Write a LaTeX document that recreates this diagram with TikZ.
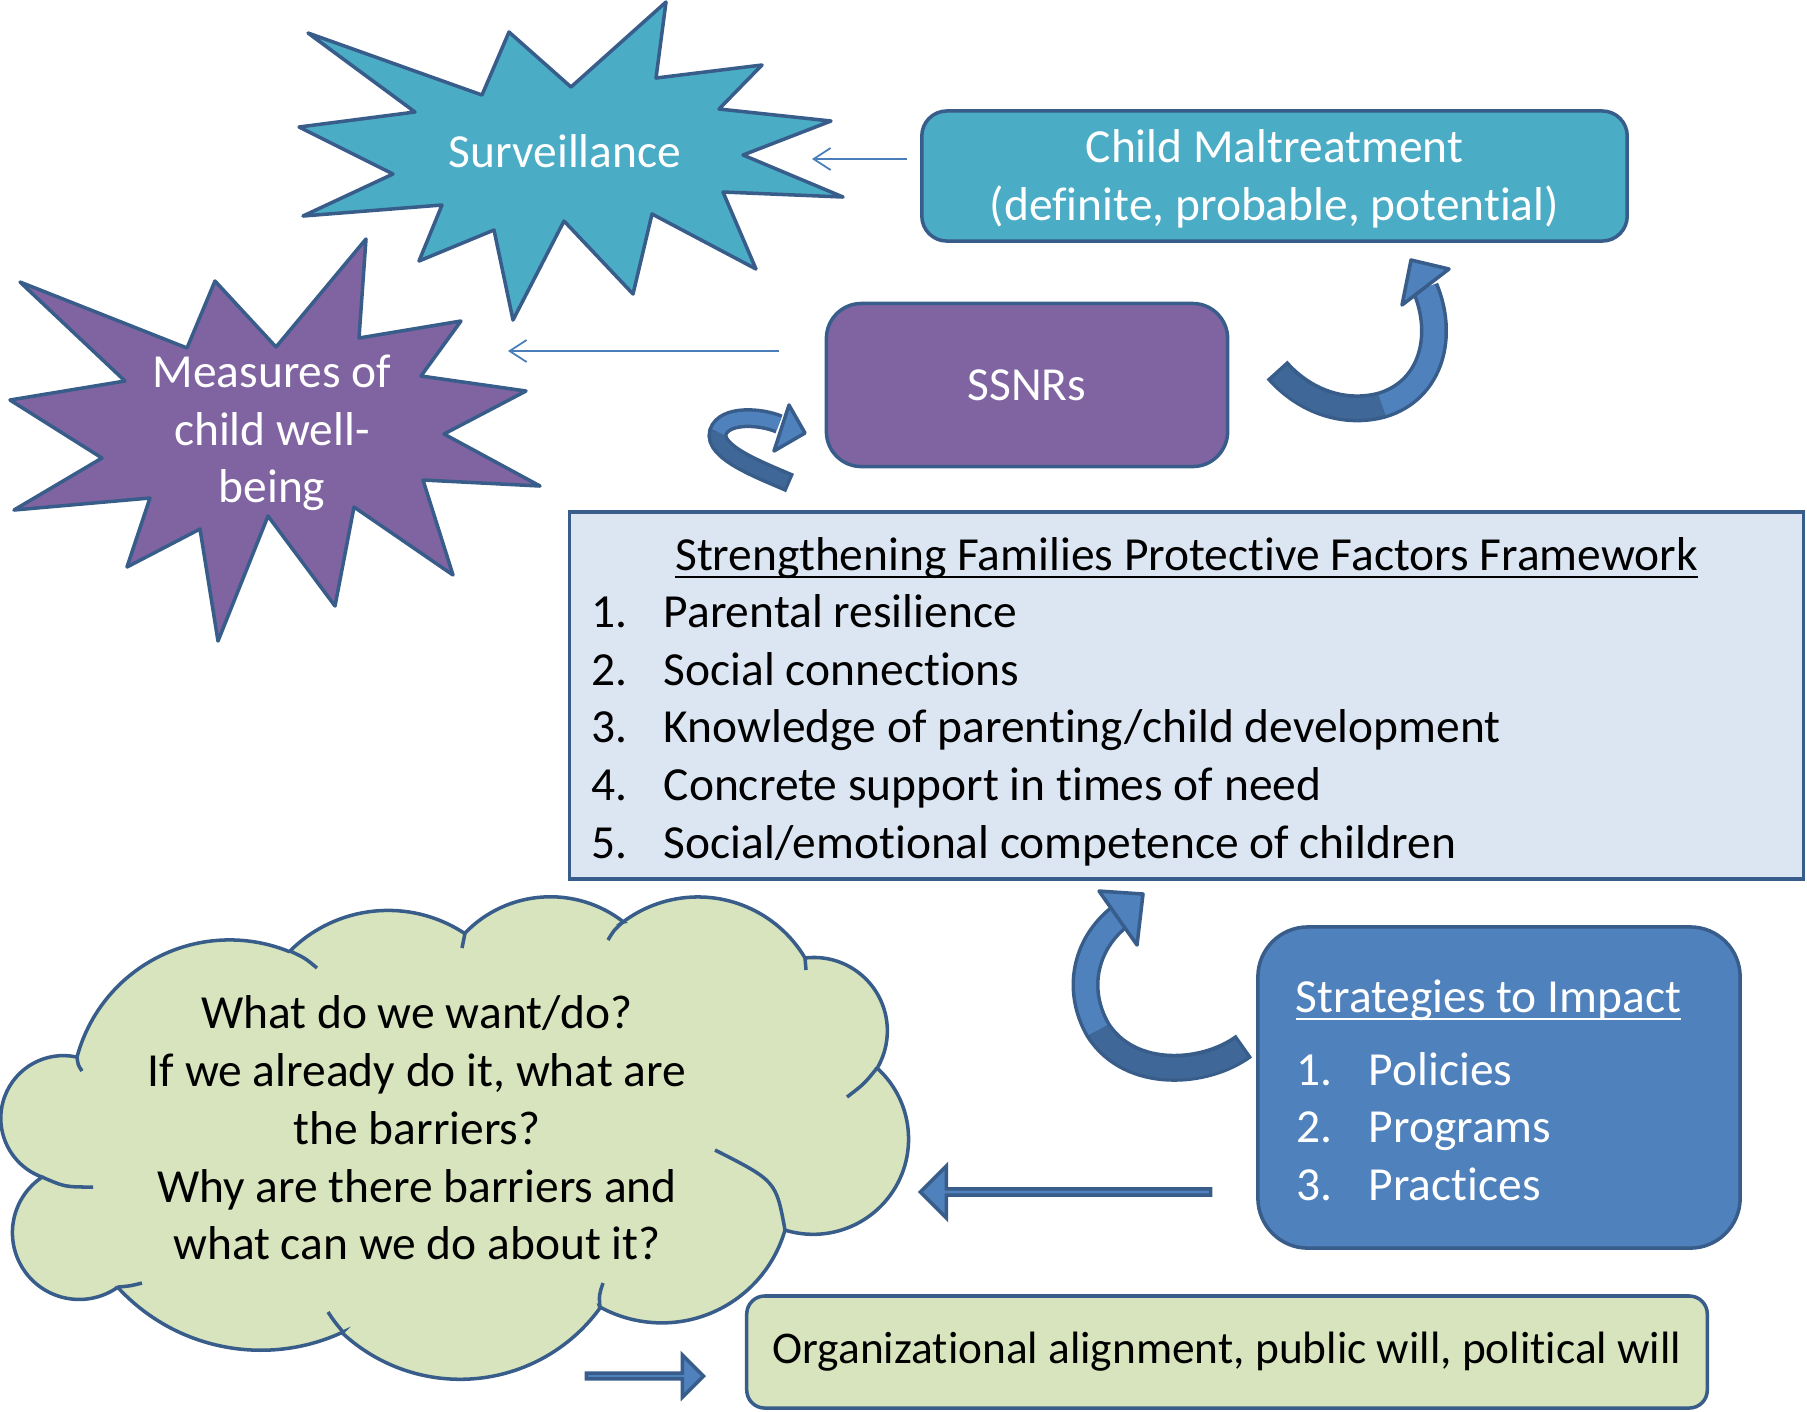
\documentclass[tikz,border=0pt]{standalone}
\usepackage{fontspec}
\setmainfont{Carlito}[Ligatures=NoCommon]
\usetikzlibrary{arrows.meta,shapes.arrows}

\definecolor{outline}{HTML}{385D8A}
\definecolor{aquafill}{HTML}{4BACC6}
\definecolor{plumfill}{HTML}{8064A2}
\definecolor{bluefill}{HTML}{4F81BD}
\definecolor{bluedark}{HTML}{3F6797}
\definecolor{palefill}{HTML}{DCE6F2}
\definecolor{greenfill}{HTML}{D7E4BD}
\definecolor{linkblue}{HTML}{4A7EBB}

% underline close to the baseline
\newcommand{\undertext}[1]{\setbox0\hbox{#1}\rlap{\rule[-2.3pt]{\wd0}{0.6pt}}\box0}

\tikzset{
  txt/.style={font=\fontsize{13.5}{16.4}\selectfont, inner sep=0pt},
  roundbox/.style={txt, draw=outline, line width=1pt, align=center},
  burst/.style={draw=outline, line width=1pt, line join=round},
  link/.style={draw=linkblue, line width=0.5pt, -{Straight Barb[length=1.7mm, width=2.2mm]}},
  bandedge/.style={draw=outline, line width=0.28cm},
  bandback/.style={draw=bluedark, line width=0.21cm},
  bandfront/.style={draw=bluefill, line width=0.21cm},
  headtip/.style={fill=bluefill, draw=outline, line width=1pt, line join=round},
  blockarrow/.style={single arrow, draw=outline, fill=bluefill, line width=1pt, inner sep=0pt, single arrow head extend=#1},
  listitem/.style={txt, anchor=base west},
}

\begin{document}
\begin{tikzpicture}[x=0.01cm, y=-0.01cm]
  \useasboundingbox (0,0) rectangle (1807,1411);

  % Surveillance burst
  \filldraw[burst, fill=aquafill] (308,33) -- (482,95) -- (509,32) -- (571,87) -- (666,2) -- (656,78)
    -- (762,65) -- (719,109) -- (831,121) -- (743,155) -- (843,197) -- (723,192) -- (756,269)
    -- (652,214) -- (633,294) -- (564,221) -- (513,320) -- (494,230) -- (419,261) -- (442,205)
    -- (303,216) -- (393,174) -- (299,127) -- (415,112) -- cycle;
  \node[txt, text=white] (surv) at (565,151) {Surveillance};

  % Measures burst
  \filldraw[burst, fill=plumfill] (20,282) -- (187,348) -- (215,281) -- (276,347) -- (366,239) -- (359,338)
    -- (461,321) -- (421,376) -- (526,391) -- (444,434) -- (540,486) -- (423,480) -- (453,575)
    -- (354,507) -- (335,606) -- (268,516) -- (218,641) -- (200,529) -- (127,567) -- (150,498)
    -- (14,510) -- (102,458) -- (10,400) -- (125,381) -- cycle;
  \node[txt, text=white, align=center] (meas) at (272,433) {Measures of\\child well-\\being};

  % boxes
  \node[roundbox, fill=aquafill, rounded corners=0.25cm, minimum width=7.05cm, minimum height=1.3cm] (cm) at (1274.5,176) {};
  \node[txt, text=white, align=center] (cmtext) at (1274.5,179) {Child Maltreatment\\(definite, probable, potential)};
  \node[roundbox, fill=plumfill, text=white, rounded corners=0.35cm, minimum width=4.01cm, minimum height=1.63cm]
    (ssnr) at (1027,385) {SSNRs};

  % protective factors
  \node[roundbox, fill=palefill, minimum width=12.33cm, minimum height=3.67cm] (sfpf) at (1186.5,695.5) {};
  \node[txt, anchor=base] (sfhead) at (1186.5,570) {\undertext{Strengthening Families Protective Factors Framework}};
  \foreach \entry [count=\i] in {Parental resilience, Social connections, Knowledge of parenting/child development,
      Concrete support in times of need, Social/emotional competence of children}
    \node[listitem] (sf\i) at (591,{570+57.6*\i}) {\makebox[0.72cm][l]{\i.}\entry};

  % strategies
  \node[roundbox, fill=bluefill, rounded corners=0.5cm, minimum width=4.82cm, minimum height=3.21cm] (strat) at (1499,1087.5) {};
  \node[listitem, text=white] (sthead) at (1295,1012) {\undertext{Strategies to Impact}};
  \foreach \entry [count=\i] in {Policies, Programs, Practices}
    \node[listitem, text=white] (st\i) at (1296,{1027.5+57.5*\i}) {\makebox[0.72cm][l]{\i.}\entry};

  \node[roundbox, fill=greenfill, rounded corners=0.18cm, minimum width=9.6cm, minimum height=1.12cm,
    font=\fontsize{12.9}{15.6}\selectfont] (org) at (1227,1352) {Organizational alignment, public will, political will};

  % cloud
  \filldraw[draw=outline, fill=greenfill, line width=1pt]
    (77,1057) arc[start angle=195, end angle=292, radius=158]
    -- (290,951) arc[start angle=225, end angle=303.5, radius=138.7]
    -- (465,933) arc[start angle=224, end angle=308, radius=118.7]
    -- (623,922) arc[start angle=233, end angle=329, radius=124.5]
    -- (805,958) arc[start angle=263, end angle=390, radius=73.4]
    -- (877,1068) arc[start angle=312, end angle=467, radius=95.4]
    -- (785,1230) arc[start angle=16, end angle=119, radius=128.2]
    -- (600,1308) arc[start angle=36, end angle=133, radius=172.9]
    -- (343,1332) arc[start angle=65, end angle=137.5, radius=194.3]
    -- (118,1287) arc[start angle=54.5, end angle=236, radius=66.8]
    -- (42,1177) arc[start angle=110, end angle=282, radius=62.6] -- cycle;
  \draw[draw=outline, line width=1pt] (77,1057) .. controls (78,1065) .. (82,1071);
  \draw[draw=outline, line width=1pt] (290,951) .. controls (305,958) .. (317,968);
  \draw[draw=outline, line width=1pt] (465,933) .. controls (463,940) .. (462,948);
  \draw[draw=outline, line width=1pt] (623,922) .. controls (614,930) .. (608,940);
  \draw[draw=outline, line width=1pt] (805,958) .. controls (806,964) .. (806,970);
  \draw[draw=outline, line width=1pt] (877,1068) .. controls (864,1084) .. (847,1097);
  \draw[draw=outline, line width=1pt] (785,1230) .. controls (776,1181) .. (715,1150);
  \draw[draw=outline, line width=1pt] (600,1308) .. controls (599,1295) .. (603,1283);
  \draw[draw=outline, line width=1pt] (343,1332) .. controls (334,1321) .. (328,1312);
  \draw[draw=outline, line width=1pt] (118,1287) .. controls (130,1286) .. (142,1283);
  \draw[draw=outline, line width=1pt] (42,1177) .. controls (65,1187) .. (93,1187);
  \node[txt, align=center] (askq) at (417,1128)
    {What do we want/do?\\If we already do it, what are\\the barriers?\\Why are there barriers and\\what can we do about it?};

  % thin links
  \coordinate (cmtail) at (907,159);
  \coordinate (survtip) at (812,159);
  \coordinate (ssnrtail) at (779,351);
  \coordinate (meastip) at (508,351);
  \draw[link] (cmtail) -- (survtip);
  \draw[link] (ssnrtail) -- (meastip);

  % block arrows
  \node[blockarrow=0.13cm, shape border rotate=180, minimum height=2.9cm, minimum width=0.52cm] (tocloud) at (1067,1192) {};
  \node[blockarrow=0.11cm, minimum height=1.17cm, minimum width=0.42cm] (toorg) at (643.5,1376) {};

  % curved arrow up to Child Maltreatment
  \draw[bandedge] (1277,370) .. controls (1305,402) and (1345,415) .. (1382,405)
    .. controls (1432,390) and (1445,335) .. (1425,288);
  \draw[bandback, shorten <=0.035cm] (1277,370) .. controls (1305,402) and (1345,415) .. (1382,405);
  \draw[bandfront] (1382,405) .. controls (1432,390) and (1445,335) .. (1425,288);
  \filldraw[headtip] (1411,260) -- (1449,269) -- (1402,305) -- cycle;

  % curved arrow into SSNRs
  \draw[bandedge, line width=0.2cm] (790,483) .. controls (760,470) and (712,452) .. (718,432)
    .. controls (724,414) and (760,416) .. (779,424);
  \draw[bandback, line width=0.13cm, shorten <=0.035cm] (790,483) .. controls (760,470) and (712,452) .. (718,432);
  \draw[bandfront, line width=0.13cm] (718,432) .. controls (724,414) and (760,416) .. (779,424);
  \filldraw[headtip] (805,433) -- (789,405) -- (774,451) -- cycle;

  % curved arrow up to the framework
  \draw[bandedge] (1244,1046) .. controls (1205,1075) and (1130,1080) .. (1098,1030)
    .. controls (1075,990) and (1085,945) .. (1118,918);
  \draw[bandback, shorten <=0.035cm] (1244,1046) .. controls (1205,1075) and (1130,1080) .. (1098,1030);
  \draw[bandfront] (1098,1030) .. controls (1075,990) and (1085,945) .. (1118,918);
  \filldraw[headtip] (1143,894) -- (1099,891) -- (1137,945) -- cycle;
\end{tikzpicture}
\end{document}
